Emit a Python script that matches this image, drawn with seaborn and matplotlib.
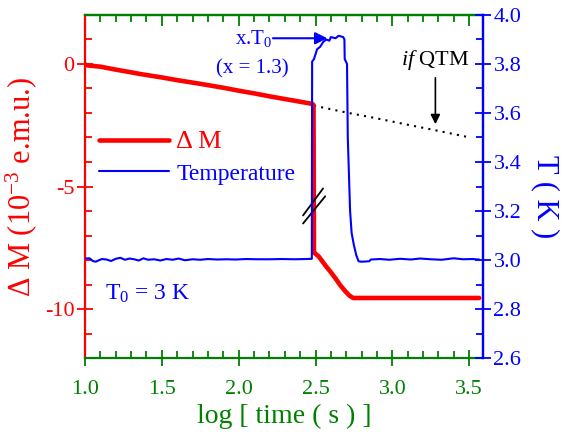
import numpy as np
import pandas as pd
import matplotlib
matplotlib.use("Agg")
import matplotlib.pyplot as plt
import seaborn as sns
from matplotlib.ticker import MultipleLocator

# magnetisation relaxation, Delta M (1e-3 emu) vs log time
m_logt = [1.00, 1.02, 1.10, 1.20, 1.30, 1.36, 1.50, 1.60, 1.75, 1.90, 2.00, 2.11,
          2.20, 2.30, 2.40, 2.48, 2.487, 2.490, 2.50, 2.52, 2.55,
          2.57, 2.60, 2.63, 2.66, 2.69, 2.72, 2.745, 3.00, 3.30, 3.565]
m_val = [-0.02, -0.06, -0.11, -0.23, -0.34, -0.41, -0.55, -0.66, -0.81, -0.97, -1.09, -1.21,
         -1.32, -1.43, -1.54, -1.63, -1.68, -7.70, -7.75, -7.85, -8.10,
         -8.27, -8.50, -8.75, -9.02, -9.25, -9.45, -9.55, -9.55, -9.55, -9.55]

# extrapolation "if QTM"
q_logt = [2.49, 2.70, 2.90, 3.10, 3.30, 3.49]
q_val = [-1.70, -1.98, -2.22, -2.48, -2.73, -2.98]

# sample temperature (K)
t_logt = [1.00, 1.03, 1.05, 1.07, 1.09, 1.11, 1.14, 1.17, 1.20, 1.23, 1.26, 1.29,
          1.32, 1.35, 1.38, 1.41, 1.45, 1.49, 1.53, 1.57, 1.61, 1.65, 1.70, 1.75,
          1.80, 1.86, 1.92, 1.98, 2.05, 2.12, 2.20, 2.28, 2.36, 2.44, 2.476,
          2.478, 2.49, 2.50, 2.51, 2.53, 2.55, 2.57, 2.59, 2.60, 2.63, 2.65, 2.68,
          2.688, 2.690, 2.705, 2.710, 2.720, 2.725, 2.735, 2.75, 2.765, 2.78, 2.80,
          2.85, 2.86, 2.92, 2.98, 3.05, 3.12, 3.18, 3.25, 3.32, 3.40, 3.46, 3.52, 3.565]
t_val = [3.006, 3.007, 2.996, 2.993, 2.999, 3.004, 3.002, 2.996, 3.005, 3.009, 3.001, 3.006,
         3.003, 2.998, 3.007, 3.001, 3.003, 2.998, 3.004, 3.001, 3.006, 2.999, 3.003, 3.001,
         3.004, 3.002, 3.003, 3.002, 3.004, 3.003, 3.003, 3.004, 3.003, 3.004, 3.005,
         3.810, 3.820, 3.840, 3.860, 3.870, 3.890, 3.900, 3.895, 3.910, 3.905, 3.915, 3.910,
         3.900, 3.820, 3.800, 3.500, 3.300, 3.200, 3.110, 3.060, 3.020, 2.995, 2.993,
         2.995, 3.002, 3.004, 3.001, 3.005, 3.002, 3.006, 3.003, 3.001, 3.007, 3.003, 3.004, 3.002]

red = "#ff0000"
blue = "#0000ff"
green = "#008000"

sns.set_style("ticks")
plt.rcParams['font.family'] = ['Liberation Serif', 'DejaVu Serif']
plt.rcParams['mathtext.fontset'] = 'custom'
plt.rcParams['mathtext.rm'] = 'Liberation Serif'
plt.rcParams['mathtext.it'] = 'Liberation Serif:italic'
plt.rcParams['axes.unicode_minus'] = False

fig = plt.figure(figsize=(5.69, 4.38), dpi=100)
ax = fig.add_axes([0.1494, 0.1826, 0.6995, 0.7832])
ax2 = ax.twinx()

sns.lineplot(x=q_logt, y=q_val, ax=ax, color="black", linestyle=(0, (1, 2.5)),
             linewidth=1.5, estimator=None, sort=False)
sns.lineplot(x=m_logt, y=m_val, ax=ax, color=red, linewidth=3.3,
             estimator=None, sort=False, label="\u0394 M")
sns.lineplot(x=t_logt, y=t_val, ax=ax2, color=blue, linewidth=1.5,
             estimator=None, sort=False, label="Temperature")

ax.set_xlim(1.0, 3.59)
ax.set_ylim(-12, 2)
ax2.set_ylim(2.6, 4.0)

ax.xaxis.set_major_locator(MultipleLocator(0.5))
ax.xaxis.set_minor_locator(MultipleLocator(0.1))
ax.yaxis.set_major_locator(MultipleLocator(5))
ax.yaxis.set_minor_locator(MultipleLocator(1))
ax2.yaxis.set_major_locator(MultipleLocator(0.2))
ax2.yaxis.set_minor_locator(MultipleLocator(0.1))
ax.xaxis.set_major_formatter(matplotlib.ticker.FormatStrFormatter('%.1f'))
ax2.yaxis.set_major_formatter(matplotlib.ticker.FormatStrFormatter('%.1f'))

for a in (ax, ax2):
    a.spines['left'].set_color(red)
    a.spines['right'].set_color(blue)
    a.spines['top'].set_color(green)
    a.spines['bottom'].set_color(green)
    for s in a.spines.values():
        s.set_linewidth(1.6)
ax2.spines['left'].set_visible(False)
ax2.spines['bottom'].set_visible(False)
ax2.spines['top'].set_visible(False)

ax.tick_params(axis='x', which='major', direction='inout', length=11, width=1.3,
               colors=green, labelsize=16, pad=10)
ax.tick_params(axis='x', which='minor', direction='in', length=5, width=1.3, colors=green)
ax.tick_params(axis='y', which='major', direction='inout', length=11, width=1.3,
               colors=red, labelsize=16, pad=2)
ax.tick_params(axis='y', which='minor', direction='in', length=5, width=1.3, colors=red)
ax2.tick_params(axis='y', which='major', direction='inout', length=11, width=1.3,
                colors=blue, labelsize=16, pad=2)
ax2.tick_params(axis='y', which='minor', direction='in', length=5, width=1.3, colors=blue)

top = ax.secondary_xaxis('top')
top.xaxis.set_major_locator(MultipleLocator(0.5))
top.xaxis.set_minor_locator(MultipleLocator(0.1))
top.tick_params(which='major', direction='in', length=8, width=1.3, colors=green, labeltop=False)
top.tick_params(which='minor', direction='in', length=5, width=1.3, colors=green)
top.spines['top'].set_color(green)
top.spines['top'].set_linewidth(1.6)

ax.set_xlabel("log [ time ( s ) ]", color=green, fontsize=20, labelpad=4)
ax.set_ylabel("\u0394 M (10$^{-3}$ e.m.u.)", color=red, fontsize=22, labelpad=4)
ax2.set_ylabel("T ( K )", color=blue, fontsize=22, rotation=270, labelpad=28)
ax2.yaxis.label.set_y(0.47)

if ax.get_legend():
    ax.get_legend().remove()
handles = [ax.lines[1], ax2.lines[0]]
leg = ax2.legend(handles=handles, labels=["\u0394 M", "Temperature"], loc='upper left',
                 bbox_to_anchor=(0.035, 0.662), frameon=False, fontsize=18,
                 handlelength=2.8, handletextpad=0.3, labelspacing=0.35,
                 labelcolor=[red, blue], borderaxespad=0.0, borderpad=0.0)
leg.get_texts()[0].set_fontsize(19)
leg.get_texts()[1].set_fontsize(17)

# annotations
ax2.text(2.10, 3.905, "x.T$_0$", color=blue, fontsize=15, ha='center', va='center')
ax2.text(2.09, 3.78, "(x = 1.3)", color=blue, fontsize=15, ha='center', va='center')
ax2.annotate("", xy=(2.595, 3.905), xytext=(2.205, 3.905),
             arrowprops=dict(arrowstyle='-|>', color=blue, lw=1.5, mutation_scale=18))
ax.text(3.28, 0.15, "$\\mathit{if}$ QTM", color="black", fontsize=16, ha='center', va='center')
ax.annotate("", xy=(3.28, -2.57), xytext=(3.28, -0.45),
            arrowprops=dict(arrowstyle='-|>', color="black", lw=1.2, mutation_scale=14))
ax.text(1.41, -9.4, "T$_0$ = 3 K", color=blue, fontsize=17, ha='center', va='center')

# break marks on the vertical drop
ax.plot([2.419, 2.549], [-6.18, -5.08], color="black", lw=1.3)
ax.plot([2.419, 2.563], [-6.51, -5.40], color="black", lw=1.3)

fig.savefig("out.png", dpi=100)
